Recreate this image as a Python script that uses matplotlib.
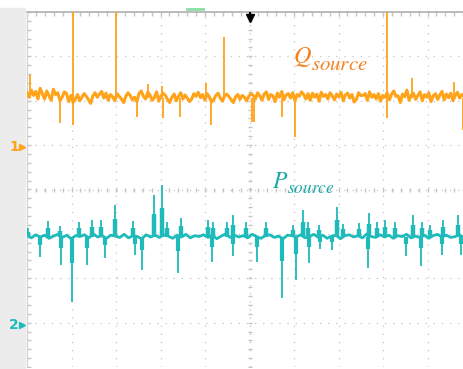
import numpy as np
import matplotlib
matplotlib.use('Agg')
import matplotlib.pyplot as plt
from matplotlib.patches import Rectangle
from matplotlib.lines import Line2D

plt.rcParams['mathtext.fontset'] = 'stix'

# values in scope divisions (x: 0..9.82 div, y: -4..4 div)
orange_base = 2.06
orange_noise = [
    0.12, 0.02, 0.18, 0.06, 0.15, -0.02, 0.22, 0.10, -0.02, 0.16, 0.05, -0.05, 0.20, 0.08, 0.12, -0.06, 0.02, 0.14, 0.10, -0.08,
    0.06, -0.10, -0.02, 0.08, -0.06, 0.02, 0.10, 0.04, -0.04, -0.12, 0.05, 0.12, 0.02, 0.09, 0.15, 0.00, 0.11, -0.05, 0.08, 0.03,
    -0.06, 0.10, 0.04, -0.02, -0.10, 0.04, 0.12, 0.06, -0.04, 0.02, -0.08, 0.10, 0.16, 0.04, -0.02, 0.13, 0.07, -0.05, 0.01, 0.14,
    -0.07, 0.05, 0.11, 0.06, -0.03, -0.10, 0.02, 0.09, -0.06, 0.04, 0.12, -0.02, 0.07, 0.00, -0.08, -0.02, 0.10, 0.04, 0.13, 0.01,
    0.08, -0.05, 0.10, 0.03, -0.09, -0.04, 0.06, 0.11, 0.00, -0.07, 0.05, 0.09, 0.03, -0.04, -0.10, 0.03, 0.08, -0.03, 0.06, 0.02,
    -0.06, 0.04, 0.10, 0.06, -0.02, 0.12, 0.05, -0.05, 0.09, 0.14, -0.03, 0.08, 0.05, -0.08, 0.11, 0.02, 0.15, -0.04, 0.07, 0.10,
    0.00, 0.12, -0.06, 0.08, 0.04, 0.14, 0.08, -0.02, 0.10, -0.05, 0.11, 0.02, 0.09, -0.07, 0.13, 0.04, 0.08, -0.02, 0.12, 0.05,
    -0.04, 0.09, 0.03, 0.13, -0.06, 0.07, 0.11, 0.00, 0.08, -0.09, -0.03, 0.12, 0.06, 0.06, 0.10, -0.05, 0.14, 0.02, 0.08, -0.02,
    0.10, -0.07, 0.06, 0.02, 0.12, -0.04, 0.08, 0.16, 0.04, 0.05, -0.10, 0.09, 0.03, 0.18, -0.05, 0.07, 0.11, -0.03, 0.06, 0.14,
    -0.06, 0.08, 0.02, 0.12, -0.08, 0.05, 0.10, -0.03, 0.07, 0.15, -0.04, 0.09, 0.01, 0.11, -0.06, 0.06, 0.13, 0.00, 0.08, 0.04,
]
orange_up_t = [0.07, 1.03, 2.00, 2.72, 3.03, 4.02, 4.43, 8.09, 8.65, 9.60]
orange_up_v = [2.58, 4.00, 4.00, 2.38, 2.33, 2.40, 3.44, 4.00, 2.51, 2.42]
orange_dn_t = [0.74, 1.03, 2.47, 3.06, 3.44, 4.13, 5.06, 5.10, 5.73, 6.02, 8.09, 9.80]
orange_dn_v = [1.50, 1.45, 1.64, 1.61, 1.64, 1.45, 1.52, 1.52, 1.64, 1.18, 1.61, 1.34]

cyan_base = -1.06
cyan_noise = [
    0.02, -0.03, 0.04, -0.01, 0.03, -0.04, 0.01, 0.05, -0.02, 0.03,
    -0.05, 0.02, 0.00, 0.04, -0.03, 0.06, -0.01, 0.02, -0.04, 0.03,
    0.01, -0.02, 0.05, -0.03, 0.02, 0.00, -0.05, 0.04, -0.01, 0.03,
    -0.02, 0.04, 0.01, -0.04, 0.03, -0.01, 0.05, -0.03, 0.02, 0.00,
    0.04, -0.02, 0.03, -0.05, 0.01, 0.06, -0.02, 0.03, -0.01, 0.02,
    -0.03, 0.05, 0.00, -0.04, 0.02, 0.04, -0.02, 0.01, -0.05, 0.03,
    0.02, -0.01, 0.04, -0.03, 0.00, 0.05, -0.02, 0.03, -0.04, 0.01,
    0.03, -0.05, 0.02, 0.04, -0.01, 0.02, -0.03, 0.06, 0.00, -0.02,
    0.04, -0.01, 0.03, -0.04, 0.02, 0.00, 0.05, -0.03, 0.01, -0.02,
    0.03, -0.04, 0.02, 0.05, -0.01, 0.03, -0.02, 0.00, 0.04, -0.03,
]
cyan_up_t = [0.02, 0.47, 0.74, 1.17, 1.46, 1.66, 1.98, 2.38, 2.85, 3.03, 3.15, 3.46,
             4.07, 4.18, 4.49, 4.63, 4.92, 5.37, 5.98, 6.20, 6.31, 6.56, 6.97, 7.10,
             7.46, 7.69, 7.87, 8.04, 8.27, 8.67, 8.88, 9.06, 9.35, 9.69]
cyan_up_v = [-0.86, -0.71, -0.82, -0.73, -0.68, -0.68, -0.35, -0.71, -0.12, 0.10, -0.73, -0.64,
             -0.68, -0.73, -0.73, -0.57, -0.73, -0.73, -0.80, -0.46, -0.73, -0.80, -0.39, -0.77,
             -0.75, -0.53, -0.73, -0.68, -0.73, -0.57, -0.73, -0.80, -0.68, -0.57]
cyan_dn_t = [0.29, 0.76, 1.01, 1.35, 1.75, 2.43, 2.58, 3.39, 4.16, 4.63, 5.17,
             5.73, 6.04, 6.34, 6.58, 6.85, 7.66, 8.52, 8.85, 9.33, 9.75]
cyan_dn_v = [-1.52, -1.70, -2.53, -1.70, -1.54, -1.47, -1.81, -1.88, -1.63, -1.50, -1.63,
             -2.44, -2.04, -1.65, -1.34, -1.36, -1.77, -1.50, -1.72, -1.47, -1.47]

x_max = 437 / 44.5
orange = '#ffa31a'
cyan = '#1fbaba'
grid_c = '#c4c4c4'

fig = plt.figure(figsize=(4.64, 3.69), dpi=100)
fig.patches.append(Rectangle((0, 0), 25 / 464, 361 / 369, transform=fig.transFigure,
                             color='#ececec', zorder=0))
ax = fig.add_axes([27 / 464, 2 / 369, 437 / 464, 355 / 369])
ax.set_xlim(0, x_max)
ax.set_ylim(-4, 4)

# graticule
for gx in range(1, 10):
    ax.axvline(gx, color=grid_c, lw=0.9, ls=(0, (1, 5.5)), zorder=1)
for gy in range(-4, 4):
    ax.axhline(gy, color=grid_c, lw=0.9, ls=(0, (1, 5.5)), zorder=1)
minor_x = np.arange(0, x_max, 0.2)
minor_y = np.arange(-4, 4.01, 0.2)
ax.plot(minor_x, np.zeros_like(minor_x), ls='none', marker='|', ms=3, color=grid_c, zorder=1)
ax.plot(np.full_like(minor_y, 5.0), minor_y, ls='none', marker='_', ms=3, color=grid_c, zorder=1)
ax.plot(minor_x, np.full_like(minor_x, 3.97), ls='none', marker='|', ms=4, color=grid_c, zorder=1)
ax.plot(np.full_like(minor_y, 0.03), minor_y, ls='none', marker='_', ms=4, color=grid_c, zorder=1)
ax.set_xticks([])
ax.set_yticks([])
for s in ['right', 'bottom']:
    ax.spines[s].set_visible(False)
ax.spines['top'].set_color('#b5b5b5')
ax.spines['top'].set_linewidth(1.3)
ax.spines['left'].set_color('#d0d0d0')

# orange trace (Q)
t_o = np.linspace(0, x_max, len(orange_noise))
ax.plot(t_o, orange_base + np.array(orange_noise), color=orange, lw=2.2, zorder=3)
ax.vlines(orange_up_t, orange_base, orange_up_v, color=orange, lw=1.3, zorder=3)
ax.vlines(orange_dn_t, orange_dn_v, orange_base, color=orange, lw=1.3, zorder=3)

# cyan trace (P)
t_c = np.linspace(0, x_max, len(cyan_noise))
ax.plot(t_c, cyan_base + np.array(cyan_noise), color=cyan, lw=2.0, zorder=3)
up_v = np.array(cyan_up_v)
dn_v = np.array(cyan_dn_v)
ax.vlines(cyan_up_t, cyan_base, up_v, color=cyan, lw=1.3, zorder=3)
ax.vlines(cyan_up_t, cyan_base, cyan_base + 0.55 * (up_v - cyan_base), color=cyan, lw=3.2, zorder=3)
ax.vlines(cyan_dn_t, dn_v, cyan_base, color=cyan, lw=1.3, zorder=3)
ax.vlines(cyan_dn_t, cyan_base + 0.4 * (dn_v - cyan_base), cyan_base, color=cyan, lw=3.0, zorder=3)

# labels
ax.text(5.98, 2.85, r'$Q$', color='#f5821f', fontsize=17.5, ha='left', va='baseline', zorder=4)
ax.text(6.38, 2.69, r'$source$', color='#f5821f', fontsize=15, ha='left', va='baseline', zorder=4)
ax.text(5.51, 0.04, r'$P$', color='#1aa8a8', fontsize=17, ha='left', va='baseline', zorder=4)
ax.text(5.84, -0.08, r'$source$', color='#1aa8a8', fontsize=12.5, ha='left', va='baseline', zorder=4)

# channel markers
fig.text(9 / 464, 1 - 147 / 369, '1', color=orange, fontsize=10, fontweight='bold', va='center')
fig.text(9 / 464, 1 - 325 / 369, '2', color=cyan, fontsize=10, fontweight='bold', va='center')
fig.add_artist(Line2D([22 / 464], [1 - 147 / 369], marker='>', ms=5, color=orange))
fig.add_artist(Line2D([22 / 464], [1 - 325 / 369], marker='>', ms=5, color=cyan))

# trigger arrow and marker on top
ax.plot([5.0, 5.0], [3.98, 3.86], color='black', lw=1.5, clip_on=False, zorder=5)
ax.plot([5.0], [3.86], marker='v', ms=6, color='black', clip_on=False, zorder=5)
fig.add_artist(Line2D([187 / 464, 203 / 464], [1 - 9 / 369] * 2, color='#86e0a0', lw=2))

fig.savefig('out.png', dpi=100)
